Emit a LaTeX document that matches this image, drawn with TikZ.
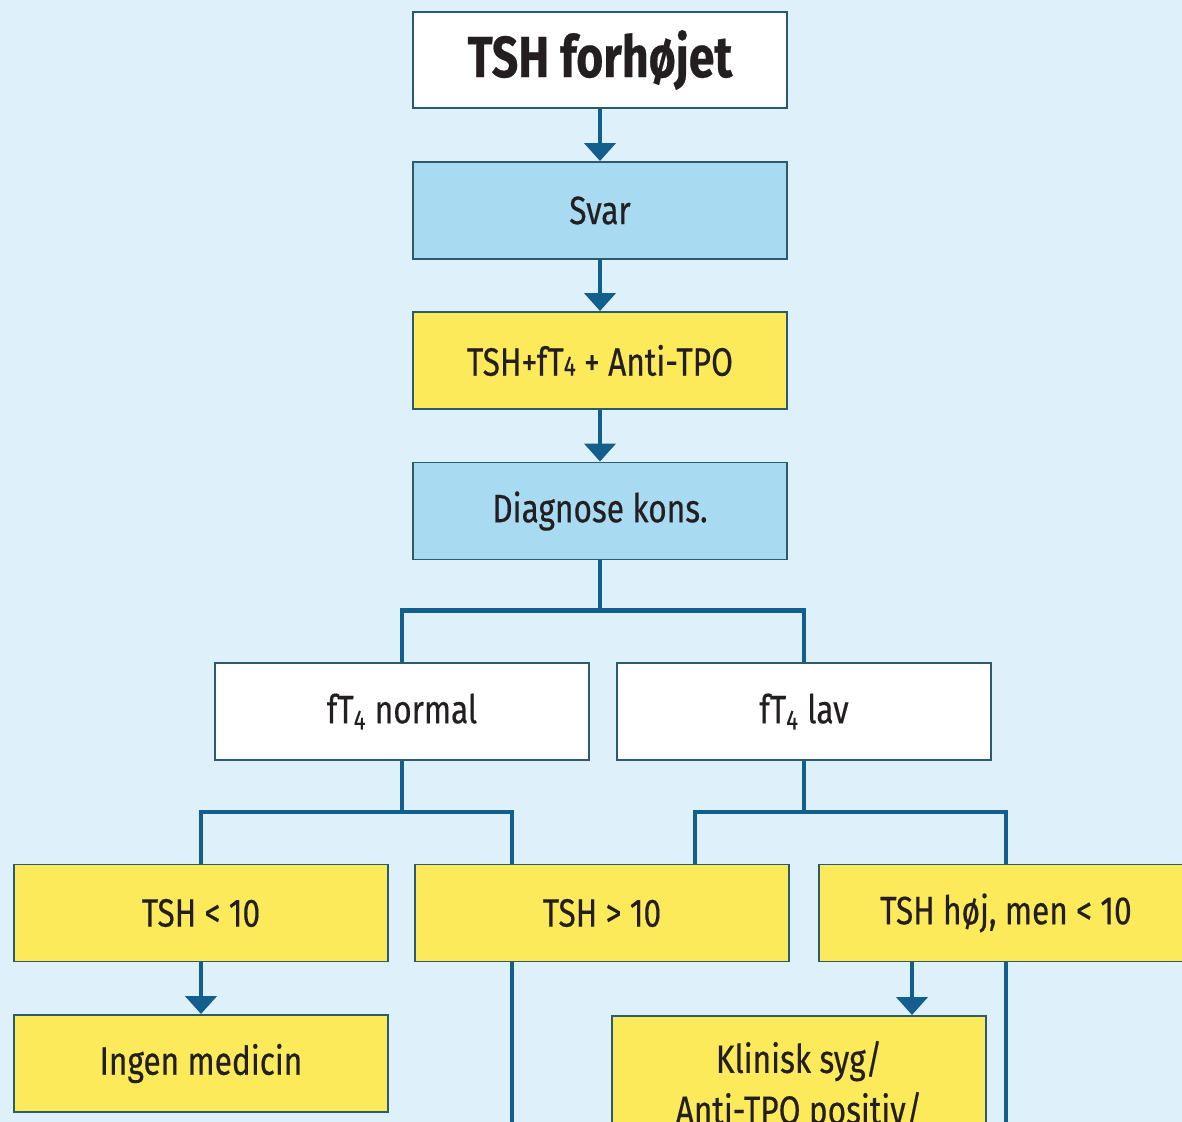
\documentclass[tikz,border=0pt]{standalone}
\usepackage{fontspec}
\setmainfont{Fira Sans}[FakeStretch=0.8,FakeBold=0.4]
\usetikzlibrary{arrows.meta}

\definecolor{bgblue}{RGB}{222,240,250}
\definecolor{lightblue}{RGB}{168,218,242}
\definecolor{boxyellow}{RGB}{253,234,90}
\definecolor{linkblue}{RGB}{18,94,140}
\definecolor{boxline}{RGB}{42,92,110}
\definecolor{textdark}{RGB}{35,31,32}

\tikzset{
  box/.style={draw=boxline, line width=1.1pt, minimum width=7.48cm, minimum height=1.94cm,
    inner sep=0pt, align=center, text=textdark, font=\fontsize{22.5}{29}\selectfont},
  link/.style={draw=linkblue, line width=2.6pt},
  arr/.style={link, -{Triangle[width=0.62cm,length=0.36cm]}},
}

\begin{document}
\begin{tikzpicture}

\clip (0,0) rectangle (23.64,-22.44);
\fill[bgblue] (0,0) rectangle (23.64,-22.44);

%Drawing boxes
\node[box, fill=white, minimum height=1.92cm, font=\fontsize{33}{38}\selectfont\bfseries] (top) at (12.00,-1.20) {TSH forhøjet};
\node[box, fill=lightblue] (svar) at (12.00,-4.21) {Svar};
\node[box, fill=boxyellow] (tests) at (12.00,-7.21) {TSH+fT{\fontsize{16}{16}\selectfont 4} + Anti-TPO};
\node[box, fill=lightblue] (diag) at (12.00,-10.22) {Diagnose kons.};

\node[box, fill=white] (fnorm) at (8.04,-14.23) {fT\textsubscript{4} normal};
\node[box, fill=white] (flav) at (16.08,-14.23) {fT\textsubscript{4} lav};

\node[box, fill=boxyellow] (tlow) at (4.02,-18.26) {TSH < 10};
\node[box, fill=boxyellow] (thigh) at (12.04,-18.26) {TSH > 10};
\node[box, fill=boxyellow] (tmid) at (20.12,-18.26) {TSH høj, men < 10};

\node[box, fill=boxyellow] (ingen) at (4.02,-21.27) {Ingen medicin};
\node[box, fill=boxyellow, anchor=north, inner ysep=0.5cm, text depth=2.5cm] (klin) at (15.98,-20.30) {Klinisk syg/\\Anti-TPO positiv/};

%helper points
\coordinate (splitA) at (8.04,-16.24);
\coordinate (splitB) at (16.08,-16.24);
\coordinate (colA) at (10.24,-23.00);
\coordinate (colB) at (13.90,0);
\coordinate (colC) at (18.24,0);
\coordinate (colD) at (20.12,-23.00);

%connecting them
\draw[arr] (top) -- (svar);
\draw[arr] (svar) -- (tests);
\draw[arr] (tests) -- (diag);
\draw[link] (diag.south) -- ++(0,-1.00) -| (fnorm.north);
\draw[link] (diag.south) -- ++(0,-1.00) -| (flav.north);

\draw[link] (fnorm.south) -- (splitA) -| (tlow.north);
\draw[link] (splitA) -| (thigh.north -| colA);
\draw[link] (flav.south) -- (splitB) -| (thigh.north -| colB);
\draw[link] (splitB) -| (tmid.north);

\draw[arr] (tlow) -- (ingen);
\draw[arr] (tmid.south -| colC) -- (klin.north -| colC);
\draw[link] (thigh.south -| colA) -- (colA);
\draw[link] (tmid.south -| colD) -- (colD);

\end{tikzpicture}
\end{document}
